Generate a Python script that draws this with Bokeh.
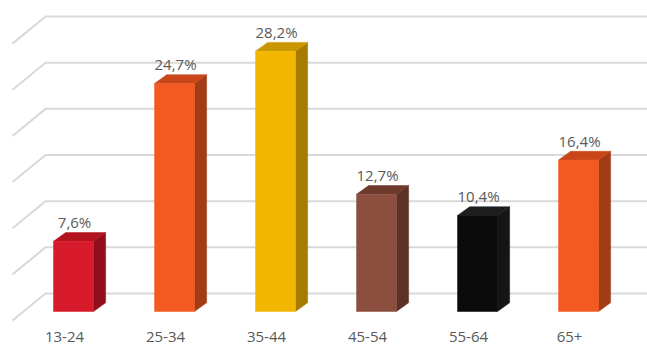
from bokeh.plotting import figure
from bokeh.models import Range1d
from bokeh.core.properties import value
from bokeh.embed import file_html
from bokeh.resources import INLINE

# ---- data ----
categories = ["13-24", "25-34", "35-44", "45-54", "55-64", "65+"]
shares = [7.6, 24.7, 28.2, 12.7, 10.4, 16.4]
share_labels = ["7,6%", "24,7%", "28,2%", "12,7%", "10,4%", "16,4%"]
grid_ticks = [0, 5, 10, 15, 20, 25, 30]

front_colors = ["#D81B2A", "#F25A22", "#F2B600", "#8C4E3F", "#0B0B0B", "#F25A22"]
top_colors = ["#B3121F", "#C9461A", "#C99500", "#6E3A2D", "#1E1E1E", "#C9461A"]
side_colors = ["#900F1A", "#A23C15", "#A67B00", "#5C3127", "#151515", "#A23C15"]

# ---- geometry (data units) ----
W = 0.198          # half width of bar front
DX, DY = 0.12, 0.95  # depth offset of bar
BACK_X0, BACK_DY = -0.277, 1.95   # back wall left edge, floor offset
SIDE_X0, SIDE_DY = -0.604, -0.98  # left end of side-wall lines

p = figure(width=647, height=350, output_backend="svg", toolbar_location=None,
           x_range=Range1d(-0.723, 5.683), y_range=Range1d(-4.225, 33.69),
           min_border=0, outline_line_color=None)
p.axis.visible = False
p.grid.visible = False
p.background_fill_color = "white"
p.border_fill_color = "white"

# grid lines: back wall + side wall
xs, ys = [], []
for t in grid_ticks:
    xs.append([SIDE_X0, BACK_X0, 6.0])
    ys.append([t + SIDE_DY, t + BACK_DY, t + BACK_DY])
p.multi_line(xs, ys, line_color="#D9D9D9", line_width=2)

idx = list(range(len(categories)))
# side faces
side_x = [[i + W, i + W + DX, i + W + DX, i + W] for i in idx]
side_y = [[0, DY, v + DY, v] for v in shares]
p.patches(side_x, side_y, fill_color=side_colors, line_color=side_colors, line_width=0.5)
# top faces
top_x = [[i - W, i + W, i + W + DX, i - W + DX] for i in idx]
top_y = [[v, v, v + DY, v + DY] for v in shares]
p.patches(top_x, top_y, fill_color=top_colors, line_color=top_colors, line_width=0.5)
# front faces
p.vbar(x=idx, top=shares, bottom=0, width=2 * W, fill_color=front_colors,
       line_color=front_colors, line_width=0.5)

# value labels
p.text(x=[i + 0.01 for i in idx], y=shares, text=share_labels, text_align="center",
       text_baseline="middle", y_offset=-19, text_font=value("Open Sans"),
       text_font_size="15px", text_color="#595959")

# category labels
p.text(x=idx, y=[0] * len(idx), text=categories, text_align="center",
       text_baseline="middle", x_offset=-9, y_offset=26, text_font=value("Open Sans"),
       text_font_size="15px", text_color="#595959")

open("out.html", "w").write(file_html(p, INLINE))
